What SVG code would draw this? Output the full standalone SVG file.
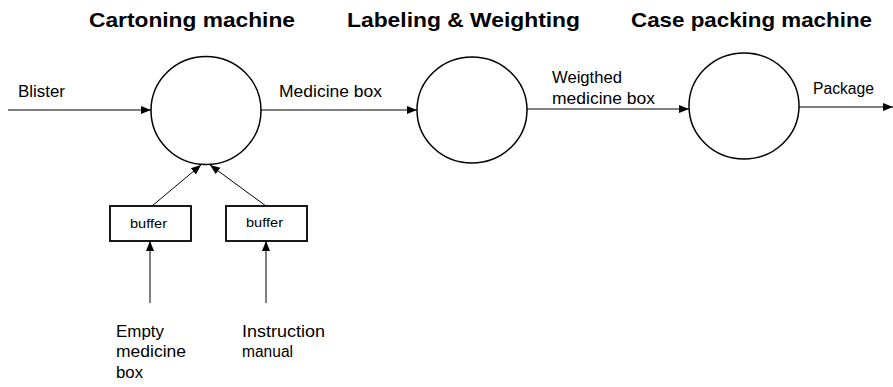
<svg xmlns="http://www.w3.org/2000/svg" width="893" height="387" viewBox="0 0 893 387">
<style>
.node{fill:#fff;stroke:#000;stroke-width:1.5}
.box{fill:#fff;stroke:#000;stroke-width:1.8}
.conn{stroke:#000;stroke-width:1;fill:none;marker-end:url(#ah)}
.title{font-family:"Liberation Sans",Arial,sans-serif;font-weight:bold;font-size:21px;fill:#000}
.lbl{font-family:"Liberation Sans",Arial,sans-serif;font-size:16px;fill:#000}
.buf{font-family:"Liberation Sans",Arial,sans-serif;font-size:12px;fill:#000}
</style>
<defs>
<marker id="ah" viewBox="0 0 10 10" refX="10" refY="5" markerWidth="10" markerHeight="10" markerUnits="userSpaceOnUse" orient="auto">
<path d="M0,1 L10,5 L0,9 Z" fill="#000"/>
</marker>
</defs>
<g id="titles">
<text class="title" x="89" y="27" textLength="206" lengthAdjust="spacingAndGlyphs">Cartoning machine</text>
<text class="title" x="347" y="27" textLength="233" lengthAdjust="spacingAndGlyphs">Labeling &amp; Weighting</text>
<text class="title" x="631" y="27" textLength="241" lengthAdjust="spacingAndGlyphs">Case packing machine</text>
</g>
<g id="cartoning"><ellipse class="node" cx="206" cy="110.5" rx="55" ry="54"/></g>
<g id="labeling"><ellipse class="node" cx="472" cy="110" rx="55" ry="53"/></g>
<g id="casepacking"><ellipse class="node" cx="744" cy="106" rx="55" ry="53"/></g>
<g id="buffer1"><rect class="box" x="110" y="206" width="81" height="35"/><text class="buf" x="130" y="228" textLength="37" lengthAdjust="spacingAndGlyphs">buffer</text></g>
<g id="buffer2"><rect class="box" x="226" y="206" width="81" height="35"/><text class="buf" x="246" y="226.5" textLength="37" lengthAdjust="spacingAndGlyphs">buffer</text></g>
<g id="connectors">
<line class="conn" x1="8" y1="110" x2="151" y2="110"/>
<line class="conn" x1="261" y1="110" x2="417" y2="110"/>
<line class="conn" x1="527" y1="109" x2="689" y2="109"/>
<line class="conn" x1="799" y1="107" x2="893" y2="107"/>
<line class="conn" x1="152" y1="206" x2="201" y2="165"/>
<line class="conn" x1="266" y1="206" x2="210" y2="165"/>
<line class="conn" x1="150" y1="303" x2="150" y2="241"/>
<line class="conn" x1="266" y1="303" x2="266" y2="241"/>
</g>
<g id="labels">
<text class="lbl" x="18" y="97" textLength="47" lengthAdjust="spacingAndGlyphs">Blister</text>
<text class="lbl" x="279" y="97" textLength="103" lengthAdjust="spacingAndGlyphs">Medicine box</text>
<text class="lbl" x="552" y="83" textLength="70" lengthAdjust="spacingAndGlyphs">Weigthed</text>
<text class="lbl" x="552" y="104" textLength="103" lengthAdjust="spacingAndGlyphs">medicine box</text>
<text class="lbl" x="813" y="94" textLength="61" lengthAdjust="spacingAndGlyphs">Package</text>
<text class="lbl" x="116" y="337" textLength="48" lengthAdjust="spacingAndGlyphs">Empty</text>
<text class="lbl" x="116" y="357" textLength="70" lengthAdjust="spacingAndGlyphs">medicine</text>
<text class="lbl" x="116" y="378" textLength="27" lengthAdjust="spacingAndGlyphs">box</text>
<text class="lbl" x="242" y="337" textLength="83" lengthAdjust="spacingAndGlyphs">Instruction</text>
<text class="lbl" x="242" y="357" textLength="51" lengthAdjust="spacingAndGlyphs">manual</text>
</g>
</svg>
